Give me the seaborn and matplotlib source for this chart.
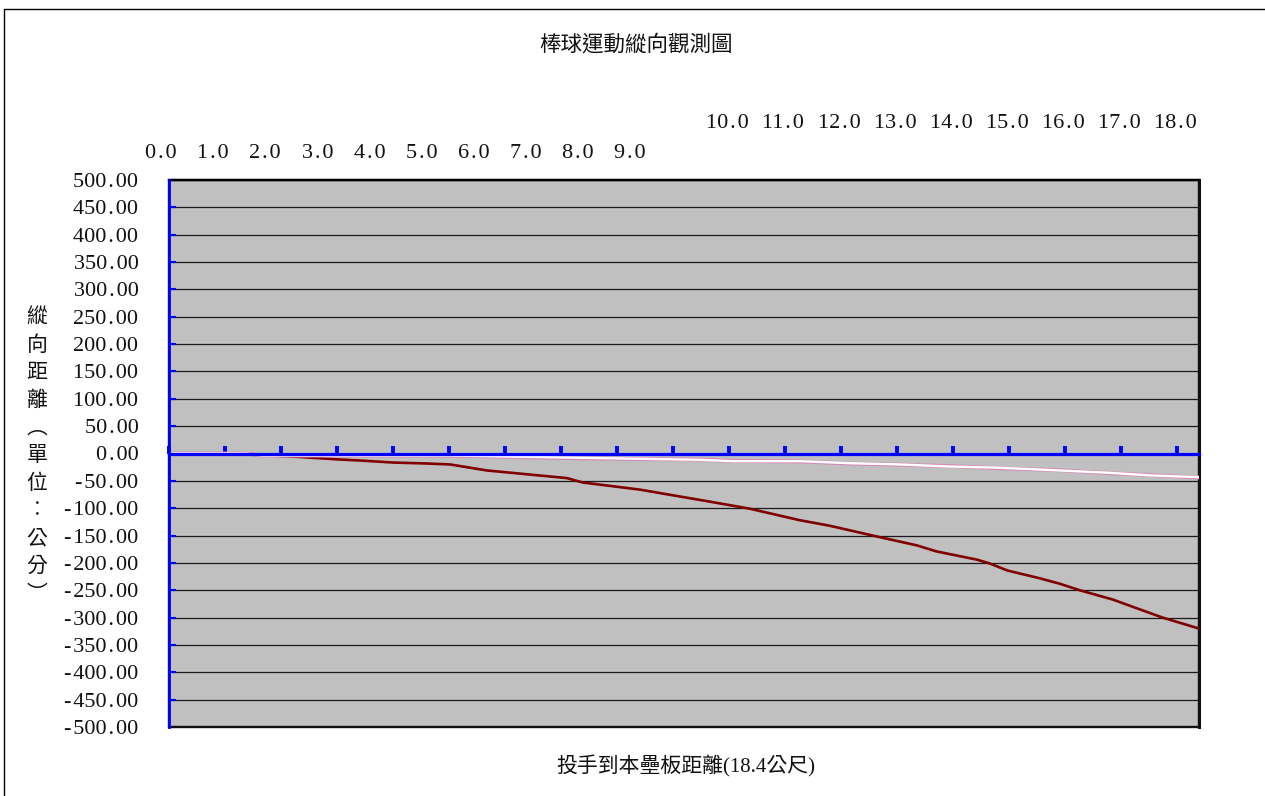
import numpy as np
import pandas as pd
import matplotlib
matplotlib.use("Agg")
import matplotlib.pyplot as plt
from matplotlib.patches import Rectangle
from matplotlib.lines import Line2D
import seaborn as sns

# Distance from the pitcher (m) and vertical drop (cm) for each trace
dist_red = [0, 1.27, 1.80, 2.21, 3.05, 3.41, 4.00, 4.61, 5.02, 5.68, 7.11, 7.39,
            8.41, 9.66, 10.38, 11.27, 11.80, 12.57, 13.36, 13.71, 14.43, 14.66,
            14.98, 15.55, 15.91, 16.27, 16.86, 17.29, 17.75, 18.40]
drop_red = [0, 0, -3.7, -5.5, -11, -12.8, -16.5, -18.3, -20, -31, -45, -53,
            -66, -88, -101, -122, -132, -150, -168, -179, -194, -201,
            -214, -228, -238, -250, -267, -283, -300, -320]

dist_light = [0, 1.36, 1.66, 5.02, 7.39, 9.48, 10.07, 11.27, 12.16, 13.05,
              13.95, 14.84, 15.91, 16.80, 17.52, 18.40]
drop_pink = [0, 0, -3.7, -3.9, -9.0, -11.0, -13.5, -14.5, -18.3, -20.5,
             -23.0, -27.0, -30.5, -36.0, -39.5, -44.0]
drop_white = [0, 0, -3.7, -3.7, -7.9, -11.5, -14.0, -14.0, -17.7, -20.0,
              -23.8, -26.0, -31.0, -35.3, -40.0, -43.3]

x_ticks = list(range(0, 19))
x_labels = [f"{v:.1f}" for v in x_ticks]
y_ticks = list(range(-500, 501, 50))
y_labels = [f"{v:.2f}" for v in y_ticks]

title = "棒球運動縱向觀測圖"
x_title = "投手到本壘板距離(18.4公尺)"
y_title = "縱向距離︵單位︰公分︶"


def spaced(s):
    """Give the decimal point and sign a wider cell, like half-width digits."""
    return s.replace(".", "\u200a.\u200a").replace("-", "-\u200a")


sns.set_theme(style="white")
plt.rcParams["font.family"] = ["Liberation Serif", "Noto Sans CJK TC", "DejaVu Sans"]

W, H = 1265, 796
fig = plt.figure(figsize=(W / 100, H / 100), dpi=100)
fig.patch.set_facecolor("white")
ax = fig.add_axes([169 / W, 1 - 727 / H, (1199 - 169) / W, (727 - 180) / H])
ax.set_facecolor("#C0C0C0")

red = pd.DataFrame({"dist": dist_red, "drop": drop_red})
light = pd.DataFrame({"dist": dist_light, "pink": drop_pink, "white": drop_white})

sns.lineplot(data=red, x="dist", y="drop", ax=ax, color="#800000", lw=1.9,
             estimator=None, sort=False, zorder=3)
sns.lineplot(data=light, x="dist", y="pink", ax=ax, color="#D68AB5", lw=2.8,
             estimator=None, sort=False, zorder=3)
sns.lineplot(data=light, x="dist", y="white", ax=ax, color="white", lw=1.7,
             estimator=None, sort=False, zorder=3.1)

ax.set_xlim(0, 18.4)
ax.set_ylim(-500, 500)
ax.set_xlabel("")
ax.set_ylabel("")

# horizontal gridlines every 50
ax.set_yticks(y_ticks)
ax.set_yticklabels([spaced(s) for s in y_labels], fontsize=16)
ax.yaxis.grid(True, color="#1a1a1a", lw=0.9)
ax.xaxis.grid(False)
ax.set_axisbelow(True)

# category axis drawn through zero in blue
ax.spines["bottom"].set_position(("data", 0))
ax.spines["bottom"].set_color("#0000FF")
ax.spines["bottom"].set_linewidth(2.3)
ax.spines["bottom"].set_zorder(4)
ax.spines["left"].set_color("#0000FF")
ax.spines["left"].set_linewidth(2.0)
ax.spines["left"].set_zorder(4)
ax.spines["top"].set_color("black")
ax.spines["top"].set_linewidth(1.6)
ax.spines["right"].set_color("#111111")
ax.spines["right"].set_linewidth(2.2)

ax.set_xticks(x_ticks)
ax.tick_params(axis="x", direction="in", length=5.5, width=2.8, color="#0000FF",
               bottom=True, top=False, labelbottom=False)
ax.tick_params(axis="y", direction="in", length=5, width=1.5, color="#0000FF",
               left=True, right=False, pad=22, labelcolor="#111111")

# lower frame edge of the plot area
ax.add_patch(Rectangle((0, 0), 1, 1, transform=ax.transAxes, fill=False,
                       ec="#111111", lw=1.7, clip_on=False, zorder=2.4))

# distance labels above the plot, in two staggered rows
xt = ax.get_xaxis_transform()
for i in range(10):
    ax.text(i * 0.931 - 0.143, 1.049, spaced(x_labels[i]), transform=xt,
            ha="center", va="center", fontsize=16, color="#111111")
for i in range(10, 19):
    ax.text(x_ticks[i] - 0.03, 1.104, spaced(x_labels[i]), transform=xt,
            ha="center", va="center", fontsize=16, color="#111111")

fig.text(636 / W, 1 - 45 / H, title, ha="center", va="center", fontsize=15.5,
         color="#111111")
fig.text(686 / W, 1 - 766 / H, x_title, ha="center", va="center", fontsize=15,
         color="#111111")
for i, ch in enumerate(y_title):
    fig.text(37 / W, 1 - (318 + 27.7 * i) / H, ch, ha="center", va="center",
             fontsize=15, color="#111111")

# chart border
fig.add_artist(Line2D([4 / W, 1], [1 - 9 / H, 1 - 9 / H], transform=fig.transFigure,
                      color="black", lw=1))
fig.add_artist(Line2D([4 / W, 4 / W], [0, 1 - 9 / H], transform=fig.transFigure,
                      color="black", lw=1))

fig.savefig("out.png", dpi=100)
